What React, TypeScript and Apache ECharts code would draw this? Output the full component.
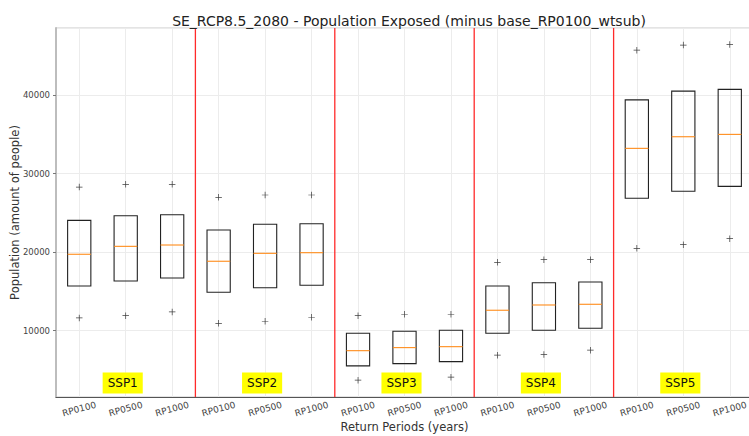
import React, { useEffect, useRef } from "react";
import * as echarts from "echarts";

const categories = [
  "RP0100", "RP0500", "RP1000",
  "RP0100", "RP0500", "RP1000",
  "RP0100", "RP0500", "RP1000",
  "RP0100", "RP0500", "RP1000",
  "RP0100", "RP0500", "RP1000",
];
const groups = ["SSP1", "SSP2", "SSP3", "SSP4", "SSP5"];

const q1 = [15690, 16330, 16710, 14890, 15470, 15780, 5510, 5800, 6050, 9670, 10050, 10310, 26860, 27750, 28380];
const medians = [19730, 20740, 20910, 18840, 19850, 19930, 7450, 7840, 7960, 12600, 13270, 13360, 33220, 34700, 35000];
const q3 = [24050, 24640, 24770, 22820, 23550, 23620, 9670, 9920, 10050, 15690, 16110, 16200, 39400, 40510, 40730];
const upperMarks = [28290, 28640, 28640, 26980, 27280, 27280, 11910, 12090, 12090, 18710, 19040, 19040, 45730, 46370, 46460];
const lowerMarks = [11620, 11910, 12380, 10940, 11200, 11710, 3690, 3900, 4070, 6870, 6950, 7510, 20490, 20950, 21710];

const yMin = 1550;
const yMax = 48550;

const crossPath =
  "path://M-0.11,-1 L0.11,-1 L0.11,-0.11 L1,-0.11 L1,0.11 L0.11,0.11 L0.11,1 L-0.11,1 L-0.11,0.11 L-1,0.11 L-1,-0.11 L-0.11,-0.11 Z";

export default function App() {
  const ref = useRef<HTMLDivElement>(null);
  useEffect(() => {
    if (!ref.current) return;
    const chart = echarts.init(ref.current, null, { renderer: "svg" });
    const font = "DejaVu Sans";
    const boxData = categories.map((_, i) => [i, q1[i], medians[i], q3[i]]);
    const markData: number[][] = [];
    categories.forEach((_, i) => {
      markData.push([i, upperMarks[i]]);
      markData.push([i, lowerMarks[i]]);
    });
    const boundaryData = groups.slice(0, -1).map((_, g) => [g * 3 + 2, yMin]);
    const labelData = groups.map((_, g) => [g * 3 + 1, yMin]);

    chart.setOption({
      animation: false,
      backgroundColor: "#ffffff",
      textStyle: { fontFamily: font },
      title: {
        text: "SE_RCP8.5_2080 - Population Exposed (minus base_RP0100_wtsub)",
        left: 404,
        top: 9,
        textAlign: "center",
        textStyle: { fontFamily: font, fontSize: 14, fontWeight: "normal", color: "#222" },
      },
      grid: {
        left: 56,
        top: 28,
        width: 697,
        height: 369,
        show: true,
        borderColor: "#c8c8c8",
        borderWidth: 1,
        containLabel: false,
        outerBoundsMode: "none",
      },
      xAxis: {
        type: "category",
        data: categories,
        boundaryGap: true,
        name: "Return Periods (years)",
        nameLocation: "middle",
        nameGap: 24,
        nameMoveOverlap: false,
        nameTextStyle: { fontFamily: font, fontSize: 11.5, color: "#333" },
        axisLine: { lineStyle: { color: "#555", width: 1 } },
        axisTick: { alignWithLabel: true, length: 3, lineStyle: { color: "#555" } },
        axisLabel: {
          interval: 0,
          rotate: 15,
          align: "center",
          verticalAlign: "middle",
          margin: 12,
          fontSize: 9,
          color: "#444",
          fontFamily: font,
        },
        splitLine: { show: true, alignWithLabel: true, lineStyle: { color: "#ececec", width: 1 } },
      },
      yAxis: {
        type: "value",
        min: yMin,
        max: yMax,
        splitNumber: 5,
        name: "Population (amount of people)",
        nameLocation: "middle",
        nameGap: 35,
        nameMoveOverlap: false,
        nameTextStyle: { fontFamily: font, fontSize: 11.5, color: "#333" },
        axisLine: { show: true, lineStyle: { color: "#bdbdbd", width: 2 } },
        axisTick: { show: true, length: 3, lineStyle: { color: "#777" } },
        axisLabel: {
          showMinLabel: false,
          showMaxLabel: false,
          fontSize: 8.5,
          color: "#444",
          margin: 6,
          fontFamily: font,
          formatter: (v: number) => String(Math.round(v)),
        },
        splitLine: { show: true, lineStyle: { color: "#ececec", width: 1 } },
      },
      series: [
        {
          type: "custom",
          name: "boundaries",
          silent: true,
          z: 3,
          data: boundaryData,
          renderItem: (params: any, api: any) => {
            const i = api.value(0);
            const a = api.coord([i, yMin]);
            const b = api.coord([i + 1, yMin]);
            const cs = params.coordSys;
            const x = (a[0] + b[0]) / 2;
            return {
              type: "line",
              shape: { x1: x, y1: cs.y, x2: x, y2: cs.y + cs.height },
              style: { stroke: "#ff2a2a", lineWidth: 1.3 },
            };
          },
        },
        {
          type: "custom",
          name: "boxes",
          silent: true,
          z: 4,
          data: boxData,
          encode: { x: 0, y: [1, 2, 3] },
          renderItem: (params: any, api: any) => {
            const x = api.value(0);
            const lo = api.coord([x, api.value(1)]);
            const md = api.coord([x, api.value(2)]);
            const hi = api.coord([x, api.value(3)]);
            const w = api.size([1, 0])[0] * 0.5;
            return {
              type: "group",
              children: [
                {
                  type: "rect",
                  shape: { x: lo[0] - w / 2, y: hi[1], width: w, height: lo[1] - hi[1] },
                  style: { fill: "none", stroke: "#222", lineWidth: 1.1 },
                },
                {
                  type: "line",
                  shape: { x1: md[0] - w / 2, y1: md[1], x2: md[0] + w / 2, y2: md[1] },
                  style: { stroke: "#ff8c1a", lineWidth: 1.1 },
                },
              ],
            };
          },
        },
        {
          type: "scatter",
          name: "marks",
          silent: true,
          z: 5,
          symbol: crossPath,
          symbolSize: 6.5,
          itemStyle: { color: "#111" },
          data: markData,
        },
        {
          type: "custom",
          name: "groupLabels",
          silent: true,
          z: 10,
          data: labelData,
          renderItem: (params: any, api: any) => {
            const p = api.coord([api.value(0), yMin]);
            return {
              type: "text",
              x: p[0] - 3,
              y: p[1] - 14,
              style: {
                text: groups[params.dataIndex],
                fontFamily: font,
                fontSize: 12,
                fill: "#111",
                align: "center",
                verticalAlign: "middle",
                backgroundColor: "#ffff00",
                padding: [5, 5, 4, 5],
              },
            };
          },
        },
      ],
    });
    return () => chart.dispose();
  }, []);
  return (
    <div
      ref={ref}
      style={{ position: "fixed", left: 0, top: 0, width: 749, height: 436 }}
    />
  );
}
